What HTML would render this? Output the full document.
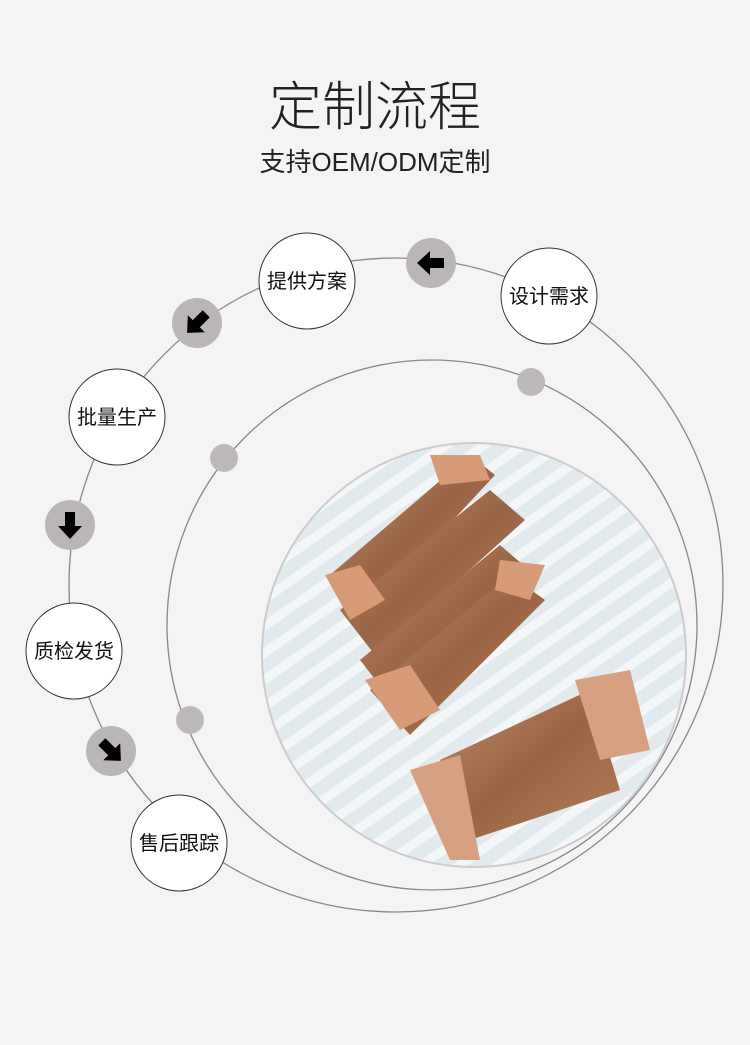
<!DOCTYPE html>
<html><head><meta charset="utf-8"><style>
body{margin:0;background:#f4f4f4;width:750px;height:1040px;overflow:hidden;font-family:"Liberation Sans","Noto Sans CJK SC",sans-serif;}
</style></head><body>
<svg width="750" height="1040" viewBox="0 0 750 1040" xmlns="http://www.w3.org/2000/svg">
<defs>
<clipPath id="pc"><circle cx="474" cy="655" r="211"/></clipPath>
<pattern id="st" width="22" height="22" patternUnits="userSpaceOnUse" patternTransform="rotate(-35)">
<rect width="22" height="22" fill="#e3eaee"/><rect width="22" height="9" fill="#f4f7f9"/>
</pattern>
<linearGradient id="cu" x1="0" y1="0" x2="1" y2="1"><stop offset="0" stop-color="#c08a68"/><stop offset="0.5" stop-color="#9a6546"/><stop offset="1" stop-color="#b47c5c"/></linearGradient>
</defs>
<text x="375" y="125" text-anchor="middle" font-family="'Noto Sans CJK SC',sans-serif" font-weight="300" font-size="53" fill="#222">定制流程</text>
<text x="375" y="171" text-anchor="middle" font-size="26" fill="#222">支持OEM/ODM定制</text>
<circle cx="396" cy="585" r="327" fill="none" stroke="#888" stroke-width="1.3"/>
<circle cx="432" cy="625" r="265" fill="none" stroke="#888" stroke-width="1.3"/>
<circle cx="474" cy="655" r="213" fill="#ccc"/>
<g clip-path="url(#pc)">
<rect x="260" y="440" width="430" height="430" fill="url(#st)"/>
<polygon points="330,575 470,455 495,475 365,615" fill="url(#cu)"/>
<polygon points="340,610 490,490 525,520 375,655" fill="url(#cu)"/>
<polygon points="360,660 500,545 535,575 395,705" fill="url(#cu)"/>
<polygon points="370,690 510,575 545,600 410,735" fill="url(#cu)"/>
<polygon points="325,575 360,565 385,600 350,620" fill="#d79b78"/>
<polygon points="365,680 410,665 440,710 400,730" fill="#d79b78"/>
<polygon points="430,455 480,455 490,480 440,485" fill="#d79b78"/>
<polygon points="500,560 545,565 530,600 495,590" fill="#d79b78"/>
<polygon points="440,760 590,690 620,790 470,840" fill="url(#cu)"/>
<polygon points="410,770 460,755 480,860 450,860" fill="#d7a080"/>
<polygon points="575,680 630,670 650,750 600,760" fill="#d7a080"/>
</g>
<g fill="#bdb9b8"><circle cx="531" cy="382" r="14"/><circle cx="224" cy="458" r="14"/><circle cx="190" cy="720" r="14"/></g>
<g fill="#bab6b5">
<circle cx="431" cy="263" r="25"/><circle cx="197" cy="323" r="25"/><circle cx="70" cy="525" r="25"/><circle cx="111" cy="751" r="25"/>
</g>
<g fill="#000">
<polygon transform="translate(431,263) rotate(180)" points="-13,-5 1,-5 1,-12 14,0 1,12 1,5 -13,5"/>
<polygon transform="translate(197,323) rotate(135)" points="-13,-5 1,-5 1,-12 14,0 1,12 1,5 -13,5"/>
<polygon transform="translate(70,525) rotate(90)" points="-13,-5 1,-5 1,-12 14,0 1,12 1,5 -13,5"/>
<polygon transform="translate(111,751) rotate(45)" points="-13,-5 1,-5 1,-12 14,0 1,12 1,5 -13,5"/>
</g>
<g fill="#fff" stroke="#333" stroke-width="1">
<circle cx="549" cy="296" r="48"/><circle cx="307" cy="281" r="48"/><circle cx="117" cy="417" r="48"/><circle cx="74" cy="651" r="48"/><circle cx="179" cy="843" r="48"/>
</g>
<g font-size="20" fill="#111" text-anchor="middle">
<text x="549" y="303">设计需求</text>
<text x="307" y="288">提供方案</text>
<text x="117" y="424">批量生产</text>
<text x="74" y="658">质检发货</text>
<text x="179" y="850">售后跟踪</text>
</g>
</svg>
</body></html>
